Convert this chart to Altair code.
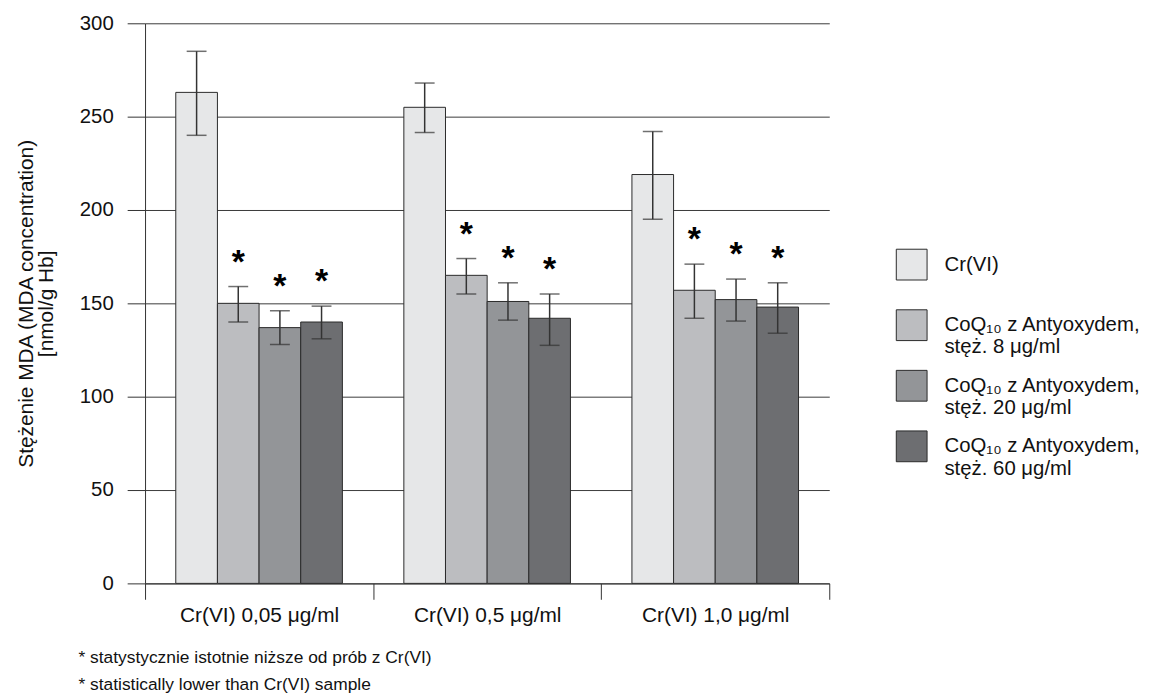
import altair as alt
import pandas as pd

groups = ["Cr(VI) 0,05 μg/ml", "Cr(VI) 0,5 μg/ml", "Cr(VI) 1,0 μg/ml"]
series = [
    "Cr(VI)",
    "CoQ₁₀ z Antyoxydem,|stęż. 8 μg/ml",
    "CoQ₁₀  z Antyoxydem,|stęż. 20 μg/ml",
    "CoQ₁₀  z Antyoxydem,|stęż. 60 μg/ml",
]
colors = ["#e6e7e8", "#bcbdc0", "#939598", "#6d6e71"]

# values per series, one per group
mean_cr = [263, 255, 219]
mean_8 = [150, 165, 157]
mean_20 = [137, 151, 152]
mean_60 = [140, 142, 148]

lo_cr = [240, 241.5, 195]
lo_8 = [140, 155, 142]
lo_20 = [128, 141, 140.5]
lo_60 = [131, 127.5, 134]

hi_cr = [285, 268, 242]
hi_8 = [159, 174, 171]
hi_20 = [146, 161, 163]
hi_60 = [148.5, 155, 161]

significant = [False, True, True, True]

rows = []
for s, m, l, h, sig in zip(
    series,
    [mean_cr, mean_8, mean_20, mean_60],
    [lo_cr, lo_8, lo_20, lo_60],
    [hi_cr, hi_8, hi_20, hi_60],
    significant,
):
    for g, mv, lv, hv in zip(groups, m, l, h):
        rows.append({"group": g, "series": s, "mean": mv, "lo": lv, "hi": hv,
                     "star": "*" if sig else ""})
df = pd.DataFrame(rows)

FONT = "Liberation Sans"
DARK = "#333333"

x_enc = alt.X(
    "group:N",
    sort=groups,
    scale=alt.Scale(paddingInner=0, paddingOuter=0),
    axis=alt.Axis(
        title=None, labelAngle=0, tickBand="extent", grid=False,
        tickSize=16, labelPadding=5, labelFontSize=21, labelFont=FONT,
        labelColor="#111", domainColor=DARK, tickColor=DARK,
    ),
)
xoff = alt.XOffset("series:N", sort=series,
                   scale=alt.Scale(paddingInner=0, paddingOuter=0.738))

y_scale = alt.Scale(domain=[0, 300], nice=False)
y_axis = alt.Axis(
    values=[0, 50, 100, 150, 200, 250, 300],
    title=["Stężenie MDA (MDA concentration)", "[nmol/g Hb]"],
    titleFontSize=21, titleFont=FONT, titleFontWeight="normal",
    titleColor="#111", titlePadding=23, titleLineHeight=20,
    labelFontSize=20.5, labelFont=FONT, labelColor="#111",
    labelPadding=14, tickSize=18, tickColor=DARK,
    domainColor=DARK, gridColor="#3a3a3a", grid=True,
)

base = alt.Chart(df)

bars = base.mark_bar(stroke="#2a2a2a", strokeWidth=1).encode(
    x=x_enc,
    xOffset=xoff,
    y=alt.Y("mean:Q", scale=y_scale, axis=y_axis),
    fill=alt.Fill(
        "series:N",
        sort=series,
        scale=alt.Scale(domain=series, range=colors),
        legend=alt.Legend(
            title=None,
            orient="none",
            legendX=756,
            legendY=227,
            symbolType="square",
            symbolSize=961,
            symbolStrokeColor="#2a2a2a",
            symbolStrokeWidth=1,
            labelExpr="split(datum.label, '|')",
            labelFontSize=20.5,
            labelFont=FONT,
            labelColor="#111",
            labelOffset=17,
            labelLimit=400,
            labelBaseline="middle",
            rowPadding=10,
            gridAlign="all",
        ),
    ),
)

err = base.mark_rule(color=DARK, strokeWidth=1.5).encode(
    x=x_enc, xOffset=xoff, y=alt.Y("lo:Q", scale=y_scale, axis=y_axis), y2="hi:Q"
)
cap_hi = base.mark_tick(color=DARK, thickness=1.5, size=20).encode(
    x=x_enc, xOffset=xoff, y=alt.Y("hi:Q", scale=y_scale, axis=y_axis)
)
cap_lo = base.mark_tick(color=DARK, thickness=1.5, size=20).encode(
    x=x_enc, xOffset=xoff, y=alt.Y("lo:Q", scale=y_scale, axis=y_axis)
)
stars = base.mark_text(
    fontSize=34, font=FONT, fontWeight="bold", color="#000",
    baseline="alphabetic", dy=-14
).encode(x=x_enc, xOffset=xoff,
         y=alt.Y("hi:Q", scale=y_scale, axis=y_axis), text="star:N")

chart = (
    alt.layer(bars, err, cap_hi, cap_lo, stars)
    .properties(
        width=689,
        height=564,
        background="white",
        padding={"left": 7, "top": 0, "right": 5, "bottom": 0},
        title=alt.TitleParams(
            text=["* statystycznie istotnie  niższe od prób z Cr(VI)",
                  "* statistically lower than Cr(VI) sample"],
            orient="bottom", anchor="start", frame="group", dx=-67,
            fontSize=17.5, font=FONT, fontWeight="normal", color="#111",
            lineHeight=27, offset=24,
        ),
    )
    .configure_view(strokeWidth=0)
)

chart.save("out.html", embed_options={"renderer": "svg", "actions": False})
